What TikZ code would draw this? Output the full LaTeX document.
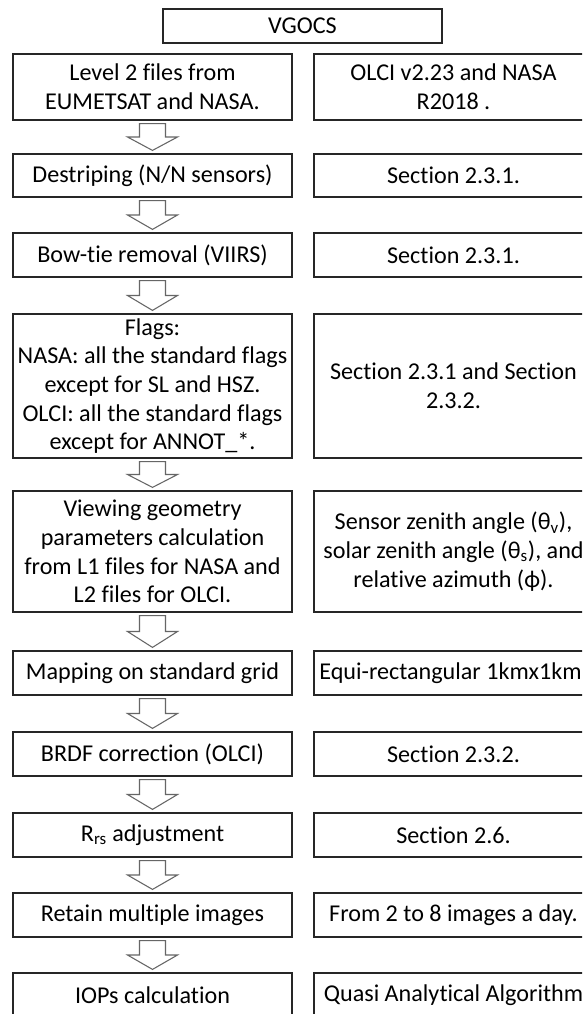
\documentclass[tikz,border=0pt]{standalone}
\usepackage{fontspec}
\setmainfont{Carlito}[Ligatures=NoCommon]
\usetikzlibrary{calc}
\tikzset{
  box/.style={draw=black!85, line width=0.9pt, fill=white, minimum width=209.25pt,
    inner sep=0pt, align=center, text=black, font=\fontsize{18.1pt}{21.5pt}\selectfont},
  onebox/.style={box, minimum height=33pt},
  flowarr/.style={draw=black!60, line width=0.8pt, fill=white, line join=miter},
}
% hollow block arrow from the bottom of one box to the top of the next
\newcommand{\flowarrow}[2]{%
  \draw[flowarr] let \p1=(#1.south), \p2=(#2.north),
      \p3=($(#1.south)!0.5!(#2.north)$) in
    (\x1-9.75pt,\y1-2.25pt) -- (\x1+9.75pt,\y1-2.25pt) -- (\x1+9.75pt,\y3)
    -- (\x1+18.75pt,\y3) -- (\x1,\y2+2.25pt) -- (\x1-18.75pt,\y3)
    -- (\x1-9.75pt,\y3) -- cycle;}
\begin{document}
\begin{tikzpicture}[x=0.75pt,y=-0.75pt]
\fill[white] (0,0) rectangle (582,1014);
\clip (0,0) rectangle (582,1014);

% title
\node[box, minimum height=25.5pt] (title) at (302.5,26) {VGOCS};

% processing steps (left column)
\node[box, minimum height=49.5pt] (l1) at (152.5,87) {Level 2 files from\\EUMETSAT and NASA.};
\node[box, minimum height=32.25pt] (l2) at (152.5,175.5) {Destriping (N/N sensors)};
\node[onebox] (l3) at (152.5,255) {Bow-tie removal (VIIRS)};
\node[box, minimum height=108pt] (l4) at (152.5,386) {Flags:\\NASA: all the standard flags\\except for SL and HSZ.\\OLCI: all the standard flags\\except for ANNOT\_*.};
\node[box, minimum height=90.75pt] (l5) at (152.5,551.5) {Viewing geometry\\parameters calculation\\from L1 files for NASA and\\L2 files for OLCI.};
\node[onebox] (l6) at (152.5,673) {Mapping on standard grid};
\node[onebox] (l7) at (152.5,754) {BRDF correction (OLCI)};
\node[onebox] (l8) at (152.5,835) {R\textsubscript{rs} adjustment};
\node[onebox] (l9) at (152.5,915) {Retain multiple images};
\node[onebox] (l10) at (152.5,995) {IOPs calculation};

% notes (right column)
\node[box, minimum height=49.5pt] (r1) at (453.5,87) {OLCI v2.23 and NASA\\R2018 .};
\node[box, minimum height=32.25pt] (r2) at (453.5,175.5) {Section 2.3.1.};
\node[onebox] (r3) at (453.5,255) {Section 2.3.1.};
\node[box, minimum height=108pt] (r4) at (453.5,386) {Section 2.3.1 and Section\\2.3.2.};
\node[box, minimum height=90.75pt] (r5) at (453.5,551.5) {Sensor zenith angle (θ\textsubscript{v}),\\solar zenith angle (θ\textsubscript{s}), and\\relative azimuth (ϕ).};
\node[onebox] (r6) at (453.5,673) {Equi-rectangular 1kmx1km.};
\node[onebox] (r7) at (453.5,754) {Section 2.3.2.};
\node[onebox] (r8) at (453.5,835) {Section 2.6.};
\node[onebox] (r9) at (453.5,915) {From 2 to 8 images a day.};
\node[onebox] (r10) at (453.5,995) {Quasi Analytical Algorithm};

% flow arrows
\flowarrow{l1}{l2}
\flowarrow{l2}{l3}
\flowarrow{l3}{l4}
\flowarrow{l4}{l5}
\flowarrow{l5}{l6}
\flowarrow{l6}{l7}
\flowarrow{l7}{l8}
\flowarrow{l8}{l9}
\flowarrow{l9}{l10}
\end{tikzpicture}
\end{document}
